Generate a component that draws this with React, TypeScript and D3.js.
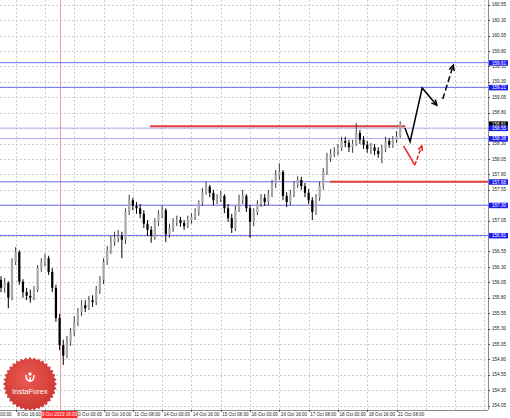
import React from 'react';
import * as d3 from 'd3';

// ---- Data (H2 candles) ----
const opens = [156.09,155.96,156.04,155.80,156.38,156.54,156.06,155.89,155.83,155.80,155.93,156.28,156.38,156.44,156.22,155.96,155.47,155.03,154.86,155.08,155.25,155.41,155.57,155.68,155.63,155.76,155.73,155.93,156.09,156.38,156.57,156.70,156.77,156.80,156.74,157.19,157.38,157.29,157.25,157.16,157.00,156.90,156.80,157.03,157.16,157.22,156.83,156.93,157.03,157.06,157.01,156.96,157.06,157.11,157.19,157.34,157.51,157.60,157.50,157.38,157.42,157.45,157.25,157.09,156.93,157.22,157.38,157.45,157.25,157.03,157.19,157.32,157.42,157.35,157.48,157.64,157.79,157.84,157.45,157.35,157.48,157.63,157.71,157.61,157.50,157.38,157.19,157.42,157.61,157.84,158.07,158.13,158.16,158.23,158.34,158.31,158.24,158.29,158.47,158.36,158.28,158.21,158.24,158.18,158.13,158.21,158.34,158.28,158.36,158.42];
const highs = [156.15,156.12,156.07,156.44,156.62,156.57,156.10,155.96,155.93,155.99,156.33,156.44,156.51,156.48,156.28,156.01,155.54,155.12,155.18,155.31,155.50,155.63,155.76,155.76,155.83,155.84,155.99,156.15,156.44,156.64,156.80,156.87,156.90,156.87,157.25,157.47,157.42,157.35,157.32,157.22,157.06,156.96,157.09,157.22,157.29,157.25,157.00,157.09,157.13,157.11,157.06,157.13,157.17,157.25,157.38,157.58,157.68,157.63,157.55,157.48,157.53,157.48,157.32,157.16,157.29,157.47,157.55,157.48,157.30,157.25,157.38,157.48,157.48,157.55,157.71,157.87,157.98,157.87,157.51,157.55,157.69,157.77,157.76,157.66,157.56,157.43,157.48,157.68,157.90,158.15,158.21,158.24,158.29,158.41,158.41,158.36,158.36,158.63,158.52,158.42,158.34,158.31,158.29,158.24,158.28,158.41,158.39,158.42,158.50,158.66];
const lows = [155.89,155.88,155.63,155.76,156.33,156.01,155.80,155.76,155.72,155.76,155.89,156.22,156.31,156.17,155.89,155.41,154.95,154.71,154.82,155.02,155.18,155.34,155.50,155.57,155.60,155.65,155.68,155.86,156.02,156.33,156.51,156.64,156.70,156.44,156.67,157.14,157.22,157.16,157.09,156.93,156.80,156.69,156.74,156.96,157.09,156.70,156.77,156.87,156.96,156.95,156.90,156.93,157.00,157.06,157.13,157.29,157.47,157.43,157.30,157.32,157.35,157.17,157.03,156.85,156.88,157.19,157.32,157.19,156.77,156.96,157.14,157.27,157.29,157.30,157.43,157.58,157.71,157.38,157.27,157.30,157.43,157.58,157.55,157.43,157.32,157.06,157.14,157.37,157.55,157.79,158.00,158.08,158.11,158.18,158.24,158.16,158.15,158.26,158.29,158.21,158.15,158.13,158.11,158.07,157.98,158.16,158.23,158.23,158.31,158.39];
const closes = [155.96,156.04,155.80,156.38,156.54,156.06,155.89,155.83,155.80,155.93,156.28,156.38,156.44,156.22,155.96,155.47,155.03,154.86,155.08,155.25,155.41,155.57,155.68,155.63,155.76,155.73,155.93,156.09,156.38,156.57,156.70,156.77,156.80,156.74,157.19,157.38,157.29,157.25,157.16,157.00,156.90,156.80,157.03,157.16,157.22,156.83,156.93,157.03,157.06,157.01,156.96,157.06,157.11,157.19,157.34,157.51,157.60,157.50,157.38,157.42,157.45,157.25,157.09,156.93,157.22,157.38,157.45,157.25,157.03,157.19,157.32,157.42,157.35,157.48,157.64,157.79,157.84,157.45,157.35,157.48,157.63,157.71,157.61,157.50,157.38,157.19,157.42,157.61,157.84,158.07,158.13,158.16,158.23,158.34,158.31,158.24,158.29,158.47,158.36,158.28,158.21,158.24,158.18,158.13,158.21,158.34,158.28,158.36,158.42,158.61];

const priceTicks = ["160.55","160.30","160.05","159.80","159.55","159.30","159.05","158.80","158.55","158.30","158.05","157.80","157.55","157.30","157.05","156.80","156.55","156.30","156.05","155.80","155.55","155.30","155.05","154.80","154.55","154.30","154.05"];
const timeLabels = ["8 Oct 00:00","8 Oct 16:00","9 Oct 08:00","10 Oct 00:00","10 Oct 16:00","11 Oct 08:00","14 Oct 00:00","14 Oct 16:00","15 Oct 08:00","16 Oct 00:00","16 Oct 16:00","17 Oct 08:00","18 Oct 00:00","18 Oct 16:00","21 Oct 08:00"];
const labelStartBar = -4;
const barsPerLabel = 8;
const gridLineCount = 18;

const cursorBar = 16;
const cursorLabel = "9 Oct 2019 16:00";

const blueLevels = [159.61, 159.21, 157.68, 157.30, 156.81];
const lightLevels = [158.55, 158.38];
const redLevels = [
  { price: 158.58, fromBar: 40.7, toBar: 110.4 },
  { price: 157.68, fromBar: 89.8, toBar: 140 },
];

const blackPath = [[110.3, 158.55], [111.7, 158.33], [115.0, 159.20], [119.0, 158.92]];
const blackDashed = [[120.6, 159.02], [123.5, 159.57]];
const redSolid = [[109.9, 158.26], [113.0, 157.95]];
const redDashed = [[113.0, 157.95], [114.9, 158.26]];

const brandName = "InstaForex";

function arrowHead(p0: number[], p1: number[], len = 6, ang = 0.45) {
  const a = Math.atan2(p1[1] - p0[1], p1[0] - p0[0]);
  const l = [p1[0] - len * Math.cos(a - ang), p1[1] - len * Math.sin(a - ang)];
  const r = [p1[0] - len * Math.cos(a + ang), p1[1] - len * Math.sin(a + ang)];
  return `M${l[0]},${l[1]}L${p1[0]},${p1[1]}L${r[0]},${r[1]}`;
}

export default function App() {
  const plotRight = 488;
  const plotBottom = 410;
  const x = d3.scaleLinear().domain([0, 109]).range([1, 400.2]);
  const y = d3.scaleLinear().domain([154.05, 160.55]).range([405.7, 4.7]);
  const line = d3.line<number[]>().x(d => x(d[0])).y(d => y(d[1]));
  const px = (d: number[]) => [x(d[0]), y(d[1])];

  const gridBars = d3.range(gridLineCount).map(i => labelStartBar + i * barsPerLabel);

  const teeth = 36;
  const gear = d3.lineRadial<number>()
    .angle(i => (i / (teeth * 2)) * Math.PI * 2)
    .radius(i => (i % 2 === 0 ? 27 : 24.6))
    .curve(d3.curveLinearClosed)(d3.range(teeth * 2));
  const bx = 30, by = 384;

  const lastClose = closes[closes.length - 1];
  const font = "'Liberation Sans', Arial, sans-serif";
  const cursorX = x(cursorBar);
  const cursorBoxL = cursorX - 18;
  const cursorBoxR = cursorX + 18;

  return (
    <svg width={510} height={418} style={{ position: 'absolute', left: 0, top: 0, background: '#fff' }} fontFamily={font}>
      <defs>
        <radialGradient id="badge" cx="45%" cy="40%" r="65%">
          <stop offset="0%" stopColor="#ec5a52" />
          <stop offset="100%" stopColor="#c8352f" />
        </radialGradient>
        <clipPath id="plot"><rect x={0} y={0} width={plotRight} height={plotBottom} /></clipPath>
      </defs>
      <rect x={0} y={0} width={510} height={418} fill="#fff" />
      {/* grid */}
      <g stroke="#cfcfcf" strokeWidth={1} strokeDasharray="2,2" clipPath="url(#plot)">
        {priceTicks.map(t => (
          <line key={t} x1={0} x2={plotRight} y1={Math.round(y(+t)) + 0.5} y2={Math.round(y(+t)) + 0.5} />
        ))}
        {gridBars.map(b => (
          <line key={b} x1={Math.round(x(b)) + 0.5} x2={Math.round(x(b)) + 0.5} y1={0} y2={plotBottom} />
        ))}
      </g>
      {/* cursor vertical line */}
      <line x1={Math.round(cursorX) + 0.5} x2={Math.round(cursorX) + 0.5} y1={0} y2={plotBottom} stroke="#f39a9a" strokeWidth={1} />
      {/* levels */}
      {blueLevels.map(p => (
        <line key={p} x1={0} x2={plotRight} y1={y(p)} y2={y(p)} stroke="#6a6af2" strokeWidth={1} />
      ))}
      {lightLevels.map(p => (
        <line key={p} x1={0} x2={plotRight} y1={y(p)} y2={y(p)} stroke="#a9aff0" strokeWidth={1} />
      ))}
      {redLevels.map(r => (
        <line key={r.price} x1={x(r.fromBar)} x2={Math.min(plotRight, x(r.toBar))} y1={y(r.price)} y2={y(r.price)} stroke="#e2403a" strokeWidth={2} />
      ))}
      {/* candles */}
      <g clipPath="url(#plot)">
        {closes.map((c, i) => {
          const o = opens[i];
          const up = c >= o;
          const cx = x(i);
          const top = y(Math.max(o, c));
          const bot = y(Math.min(o, c));
          return (
            <g key={i}>
              <line x1={cx} x2={cx} y1={y(highs[i])} y2={y(lows[i])} stroke={up ? '#3a3a3a' : '#000'} strokeWidth={1} />
              <rect x={cx - 1.1} y={top} width={2.2} height={Math.max(1, bot - top)} fill={up ? '#a8a8a8' : '#000'} />
            </g>
          );
        })}
      </g>
      {/* forecast arrows */}
      <path d={line(blackPath) || ''} fill="none" stroke="#000" strokeWidth={1.5} strokeLinejoin="miter" />
      <path d={arrowHead(px(blackPath[blackPath.length - 2]), px(blackPath[blackPath.length - 1]))} fill="none" stroke="#000" strokeWidth={1.5} />
      <path d={line(blackDashed) || ''} fill="none" stroke="#000" strokeWidth={1.5} strokeDasharray="6,3" />
      <path d={arrowHead(px(blackDashed[0]), px(blackDashed[1]))} fill="none" stroke="#000" strokeWidth={1.5} />
      <path d={line(redSolid) || ''} fill="none" stroke="#ee2020" strokeWidth={1.5} />
      <path d={line(redDashed) || ''} fill="none" stroke="#ee2020" strokeWidth={1.5} strokeDasharray="4,2" />
      <path d={arrowHead(px(redDashed[0]), px(redDashed[1]), 5)} fill="none" stroke="#ee2020" strokeWidth={1.5} />
      {/* axes */}
      <line x1={plotRight + 0.5} x2={plotRight + 0.5} y1={0} y2={plotBottom} stroke="#8a8a8a" />
      <line x1={0} x2={plotRight} y1={plotBottom + 0.5} y2={plotBottom + 0.5} stroke="#8a8a8a" />
      <g fontSize={4.6} fill="#222">
        {priceTicks.map(t => (
          <g key={t}>
            <line x1={plotRight} x2={plotRight + 2} y1={Math.round(y(+t)) + 0.5} y2={Math.round(y(+t)) + 0.5} stroke="#555" />
            <text x={plotRight + 4} y={y(+t)} dy="0.35em">{t}</text>
          </g>
        ))}
        {timeLabels.map((t, i) => {
          const bx0 = x(labelStartBar + i * barsPerLabel);
          const hidden = bx0 >= cursorBoxL && bx0 + 20 <= cursorBoxR;
          return (
            <g key={t}>
              <line x1={Math.round(bx0) + 0.5} x2={Math.round(bx0) + 0.5} y1={plotBottom} y2={plotBottom + 2} stroke="#555" />
              {!hidden && <text x={bx0 + 1.5} y={416}>{t}</text>}
            </g>
          );
        })}
      </g>
      {/* level labels */}
      <g fontSize={4.6}>
        <rect x={plotRight + 1} y={y(lastClose) - 3} width={19} height={5.5} fill="#000" />
        <text x={plotRight + 4} y={y(lastClose) - 0.3} dy="0.35em" fill="#fff">{lastClose.toFixed(2)}</text>
        {[...blueLevels, ...lightLevels].map(p => (
          <g key={p}>
            <rect x={plotRight + 1} y={y(p) - 2.5} width={19} height={5.5} fill="#1c1cf0" />
            <text x={plotRight + 4} y={y(p) + 0.3} dy="0.35em" fill="#fff">{p.toFixed(2)}</text>
          </g>
        ))}
      </g>
      {/* cursor time label */}
      <rect x={cursorBoxL} y={plotBottom + 1} width={cursorBoxR - cursorBoxL} height={7} fill="#ff2a2a" />
      <text x={cursorX} y={416} fontSize={4.6} fill="#fff" textAnchor="middle">{cursorLabel}</text>
      {/* badge */}
      <g transform={`translate(${bx},${by})`}>
        <path d={gear || ''} fill="url(#badge)" />
        <circle cx={0} cy={-10} r={1.7} fill="#fff" />
        <path d="M-4,-9 Q-4,-3 0,-3 Q4,-3 4,-9" fill="none" stroke="#fff" strokeWidth={1.4} />
        <line x1={0} x2={0} y1={-7} y2={-2} stroke="#fff" strokeWidth={1.4} />
        <text x={0} y={10} fontSize={7.5} fill="#fff" textAnchor="middle" fontFamily={font}>{brandName}</text>
      </g>
    </svg>
  );
}
